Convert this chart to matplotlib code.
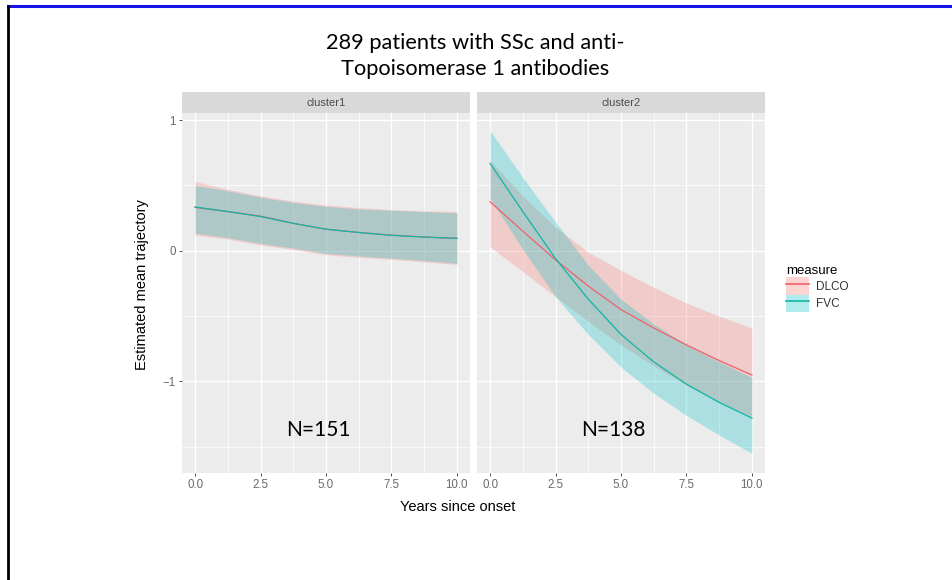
import matplotlib.pyplot as plt
from matplotlib.lines import Line2D
from matplotlib.patches import Patch

# values
years = [0, 1.25, 2.5, 3.75, 5, 6.25, 7.5, 8.75, 10]
clusters = ['cluster1', 'cluster2']
counts = ['N=151', 'N=138']
measures = ['DLCO', 'FVC']
xticks = [0, 2.5, 5, 7.5, 10]
xticklabels = ['0.0', '2.5', '5.0', '7.5', '10.0']
yticks = [1, 0, -1]

c1_dlco_mid = [0.332, 0.30, 0.265, 0.21, 0.165, 0.14, 0.12, 0.105, 0.095]
c1_dlco_lo = [0.12, 0.09, 0.045, 0.01, -0.03, -0.05, -0.065, -0.085, -0.105]
c1_dlco_hi = [0.53, 0.47, 0.42, 0.38, 0.35, 0.33, 0.315, 0.305, 0.30]
c1_fvc_mid = [0.335, 0.30, 0.262, 0.21, 0.165, 0.14, 0.118, 0.105, 0.095]
c1_fvc_lo = [0.135, 0.10, 0.056, 0.02, -0.02, -0.04, -0.057, -0.075, -0.096]
c1_fvc_hi = [0.50, 0.46, 0.41, 0.37, 0.34, 0.32, 0.31, 0.30, 0.29]

c2_dlco_mid = [0.375, 0.15, -0.07, -0.27, -0.45, -0.59, -0.72, -0.84, -0.95]
c2_dlco_lo = [0.03, -0.16, -0.35, -0.54, -0.72, -0.88, -1.03, -1.16, -1.27]
c2_dlco_hi = [0.69, 0.42, 0.18, -0.01, -0.15, -0.28, -0.40, -0.50, -0.59]
c2_fvc_mid = [0.668, 0.30, -0.06, -0.37, -0.64, -0.85, -1.02, -1.16, -1.28]
c2_fvc_lo = [0.40, 0.01, -0.35, -0.64, -0.89, -1.09, -1.26, -1.41, -1.55]
c2_fvc_hi = [0.92, 0.56, 0.22, -0.11, -0.37, -0.56, -0.72, -0.85, -0.97]

fill_cols = {'DLCO': '#F8766D', 'FVC': '#00BFC4'}
line_cols = {'DLCO': '#F0606A', 'FVC': '#10B5A5'}

plt.rcParams['font.family'] = ['Liberation Sans', 'DejaVu Sans']

W, H = 952, 580
fig = plt.figure(figsize=(W / 100, H / 100), dpi=100)

def box(l, t, r, b):
    return [l / W, 1 - b / H, (r - l) / W, (b - t) / H]

panels = [
    (182, 470, {'DLCO': (c1_dlco_mid, c1_dlco_lo, c1_dlco_hi), 'FVC': (c1_fvc_mid, c1_fvc_lo, c1_fvc_hi)}),
    (477, 765, {'DLCO': (c2_dlco_mid, c2_dlco_lo, c2_dlco_hi), 'FVC': (c2_fvc_mid, c2_fvc_lo, c2_fvc_hi)}),
]

for i, (l, r, data) in enumerate(panels):
    ax = fig.add_axes(box(l, 113, r, 473))
    ax.set_facecolor('#ECECEC')
    ax.set_xlim(-0.5, 10.5)
    ax.set_ylim(-1.70, 1.054)
    for v in [1.25, 3.75, 6.25, 8.75]:
        ax.axvline(v, color='white', lw=0.5, zorder=0)
    for v in [0.5, -0.5, -1.5]:
        ax.axhline(v, color='white', lw=0.5, zorder=0)
    for v in xticks:
        ax.axvline(v, color='white', lw=1.0, zorder=0)
    for v in yticks:
        ax.axhline(v, color='white', lw=1.0, zorder=0)
    for m in measures:
        mid, lo, hi = data[m]
        ax.fill_between(years, lo, hi, color=fill_cols[m], alpha=0.27, lw=0, zorder=1)
    for m in measures:
        mid, lo, hi = data[m]
        ax.plot(years, mid, color=line_cols[m], lw=0.9, zorder=2)
    ax.text(4.7, -1.37, counts[i], fontsize=15, family=['Lato', 'DejaVu Sans'],
            ha='center', va='center', color='black')
    for s in ax.spines.values():
        s.set_visible(False)
    ax.set_xticks(xticks)
    ax.set_xticklabels(xticklabels)
    ax.tick_params(axis='both', length=2.5, width=0.6, color='#333333',
                   labelsize=8.3, labelcolor='#6a6a6a', pad=2)
    if i == 0:
        ax.set_yticks(yticks)
        ax.set_yticklabels(['1', '0', '\u22121'])
    else:
        ax.set_yticks([])

    sx = fig.add_axes(box(l, 92, r, 113))
    sx.set_facecolor('#D9D9D9')
    sx.set_xticks([])
    sx.set_yticks([])
    for s in sx.spines.values():
        s.set_visible(False)
    sx.text(0.5, 0.5, clusters[i], ha='center', va='center', fontsize=8, color='#4D4D4D',
            transform=sx.transAxes)

fig.text(458 / W, 1 - 507 / H, 'Years since onset', ha='center', va='center', fontsize=10.5)
fig.text(142 / W, 1 - 285 / H, 'Estimated mean trajectory', ha='center', va='center',
         rotation=90, fontsize=10.5)

fig.text(475 / W, 1 - 56 / H, '289 patients with SSc and anti-\nTopoisomerase 1 antibodies',
         ha='center', va='center', fontsize=15.7, family=['Lato', 'DejaVu Sans'],
         linespacing=1.35)

handles = [(Patch(facecolor=fill_cols[m], alpha=0.3, lw=0), Line2D([], [], color=line_cols[m], lw=1.2))
           for m in measures]
leg = fig.legend(handles, measures, loc='upper left', bbox_to_anchor=(778 / W, 1 - 257 / H),
                 frameon=False, title='measure', fontsize=8.5, title_fontsize=9.5,
                 handlelength=1.9, handleheight=1.9, labelspacing=0.0, handletextpad=0.6,
                 borderpad=0.2)
leg._legend_box.align = 'left'
for t in leg.get_texts():
    t.set_color('#333333')

# slide frame: blue rule on top and black rule on the left
fig.add_artist(Line2D([8 / W, 1], [1 - 6 / H, 1 - 6 / H], color='#1414E6', lw=2.2))
fig.add_artist(Line2D([8 / W, 8 / W], [0, 1 - 6 / H], color='black', lw=2.0))

fig.savefig('out.png', dpi=100)
